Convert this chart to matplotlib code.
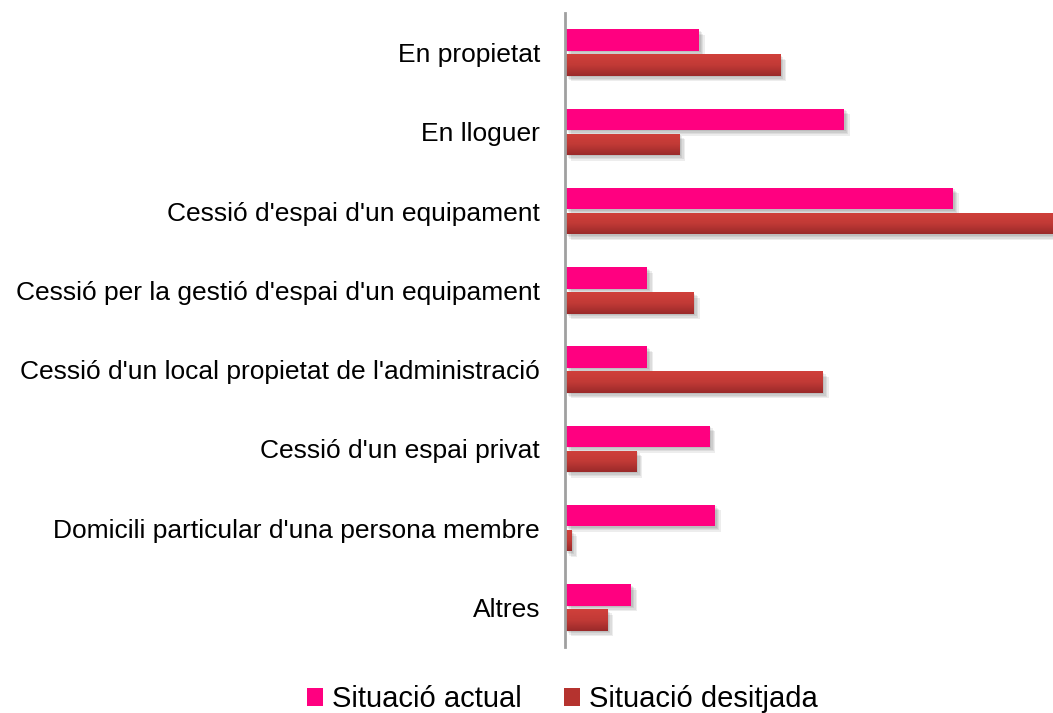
import matplotlib
matplotlib.use("Agg")
import matplotlib.pyplot as plt
import matplotlib.patheffects as pe
from matplotlib.patches import Patch
from matplotlib.colors import LinearSegmentedColormap
import numpy as np

categories = [
    "En propietat",
    "En lloguer",
    "Cessió d'espai d'un equipament",
    "Cessió per la gestió d'espai d'un equipament",
    "Cessió d'un local propietat de l'administració",
    "Cessió d'un espai privat",
    "Domicili particular d'una persona membre",
    "Altres",
]
actual = [10.1, 21.0, 29.2, 6.2, 6.2, 10.9, 11.3, 5.0]
desitjada = [16.2, 8.6, 36.7, 9.7, 19.4, 5.4, 0.5, 3.2]
series_labels = ["Situació actual", "Situació desitjada"]

plt.rcParams['font.family'] = ['Liberation Sans', 'DejaVu Sans']

fig = plt.figure(figsize=(10.53, 7.13), dpi=100)
ax = fig.add_axes([565/1053, 1 - 647/713, 1 - 565/1053, 634/713])

y = np.arange(len(categories))
h = 0.27
pink = "#FF0080"
shadow = [pe.SimplePatchShadow(offset=(o, -o), shadow_rgbFace="#000000", alpha=0.07)
          for o in (1.0, 2.0, 3.0, 4.0)] + [pe.Normal()]

b1 = ax.barh(y - 0.158, actual, height=h, color=pink, zorder=3, path_effects=shadow)
b2 = ax.barh(y + 0.158, desitjada, height=h, color="#C23A36", zorder=3, path_effects=shadow)

grad = np.linspace(0, 1, 64).reshape(-1, 1)
cmap = LinearSegmentedColormap.from_list("red", ["#D0403B", "#C23A36", "#9A2A2A"])
for bar in b2:
    x0, y0 = bar.get_x(), bar.get_y()
    w, hh = bar.get_width(), bar.get_height()
    im = ax.imshow(grad, cmap=cmap, aspect="auto", extent=(x0, x0 + w, y0 + hh, y0),
                   zorder=4, interpolation="bicubic")
    im.set_clip_path(bar)

ax.set_xlim(0, max(desitjada))
ax.set_ylim(len(categories) - 0.5, -0.5)
ax.set_yticks(y)
ax.set_yticklabels(categories, fontsize=19, color="#000000")
ax.tick_params(axis="y", length=0, pad=18)
ax.set_xticks([])
for s in ["top", "right", "bottom"]:
    ax.spines[s].set_visible(False)
ax.spines["left"].set_color("#A0A0A0")
ax.spines["left"].set_linewidth(2)
ax.spines["left"].set_zorder(5)

handles = [Patch(facecolor=pink), Patch(facecolor="#B5332F")]
leg = fig.legend(handles, series_labels, loc="lower center", bbox_to_anchor=(0.534, -0.037),
                 ncol=2, frameon=False, fontsize=21, handlelength=0.55, handleheight=0.55,
                 handletextpad=0.3, columnspacing=1.45)

fig.savefig("out.png", dpi=100)
